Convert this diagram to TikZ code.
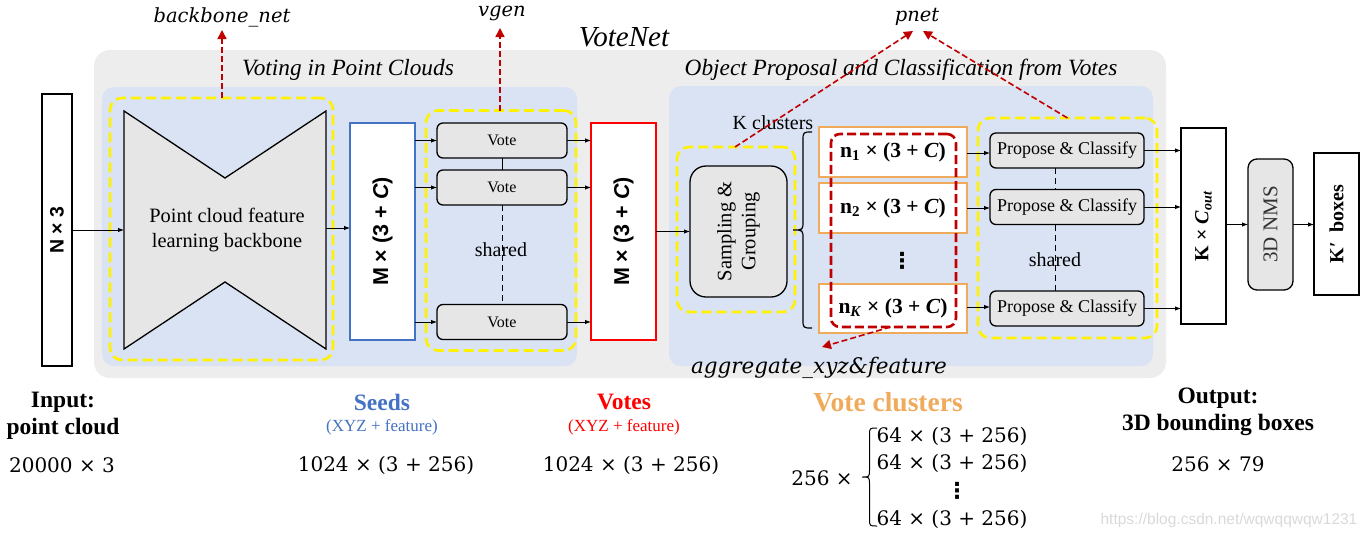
\documentclass[tikz,border=0pt]{standalone}
\usepackage{fontspec}
\setmainfont{Liberation Serif}
\newfontfamily\arialf{Liberation Sans}
\newfontfamily\cmath{DejaVu Serif}
\newfontfamily\dvsans{DejaVu Sans}
\usetikzlibrary{arrows.meta,calc}
\definecolor{bggray}{HTML}{EDEDED}
\definecolor{bgblue}{HTML}{DAE3F3}
\definecolor{boxgray}{HTML}{E6E6E6}
\definecolor{seedblue}{HTML}{4472C4}
\definecolor{darkred}{HTML}{C00000}
\definecolor{orangeb}{HTML}{F0AA5C}
\definecolor{wmgray}{HTML}{D9D9D9}
\newcommand\fsz[2]{\fontsize{#1}{#2}\selectfont}
\newcommand\clab[1]{{\bfseries n\textsubscript{#1} × (3 + \textit{C})}}
\newcommand\bvdots{{\dvsans\bfseries ⋮}}
\begin{document}
\begin{tikzpicture}[x=1pt,y=-1pt,
  every node/.style={inner sep=0pt, outer sep=0pt},
  ybox/.style={draw=yellow, line width=2.6pt, dash pattern=on 10pt off 5pt, rounded corners=12pt},
  rbox/.style={draw=darkred, line width=2.6pt, dash pattern=on 9pt off 4pt, rounded corners=9pt},
  tallbox/.style={draw=black, line width=1.8pt, fill=white},
  gbox/.style={draw=black, line width=1.3pt, fill=boxgray, rounded corners=6pt},
  clusterbox/.style={draw=orangeb, line width=2pt, fill=white, minimum width=148pt, minimum height=50pt, font=\fsz{21.5}{25}},
  votebox/.style={gbox, minimum width=130pt, minimum height=35pt, font=\fsz{16}{19}},
  propbox/.style={gbox, minimum width=154pt, minimum height=35pt, font=\fsz{18}{21}},
  arr/.style={-{Latex[length=6pt,width=4.5pt]}, line width=0.9pt},
  rarr/.style={darkred, line width=1.6pt, dash pattern=on 6pt off 3pt, -{Triangle[length=9pt,width=9pt]}},
  shareline/.style={line width=1pt, dash pattern=on 6pt off 4pt},
  ttl/.style={font=\fsz{23.3}{27}\itshape},
  mathlbl/.style={font=\cmath\itshape\fsz{19.5}{24}},
  btitle/.style={font=\fsz{23.5}{27}\bfseries},
  bsub/.style={font=\fsz{17}{20}},
  bnum/.style={font=\cmath\fsz{20}{24}}
]
\useasboundingbox (0,0) rectangle (1369,536);

% background regions
\node[fill=bggray, rounded corners=16pt, minimum width=1072pt, minimum height=328pt] (outer) at (630,214) {};
\node[fill=bgblue, rounded corners=12pt, minimum width=475pt, minimum height=279pt] (leftreg) at (339.5,226.5) {};
\node[fill=bgblue, rounded corners=12pt, minimum width=484pt, minimum height=280pt] (rightreg) at (911,226) {};

\node[font=\fsz{29}{34}\itshape] (votenet) at (624,37) {VoteNet};
\node[ttl] (ttlleft) at (348,70) {Voting in Point Clouds};
\node[ttl] (ttlright) at (901,70) {Object Proposal and Classification from Votes};

% input
\node[tallbox, minimum width=30pt, minimum height=272pt] (nbox) at (57,230) {};
\node[rotate=90, font=\arialf\bfseries\fsz{19.5}{23}] (ntext) at (nbox.center) {N × 3};

% backbone
\node[ybox, minimum width=223pt, minimum height=262pt] (ybb) at (221.5,229) {};
\draw[fill=boxgray, line width=1.3pt] (124,111) -- (225,178) -- (326,111) -- (326,349) -- (225,282) -- (124,349) -- cycle;
\coordinate (bbL) at (124,230);
\coordinate (bbR) at (326,228);
\node[align=center, font=\fsz{20.4}{25}] (bbtext) at (227,230) {Point cloud feature\\learning backbone};

% seeds
\node[draw=seedblue, line width=1.8pt, fill=white, minimum width=65pt, minimum height=217pt] (seeds) at (382.5,231.5) {};
\node[rotate=90, font=\arialf\bfseries\fsz{21.5}{25}] (seedtext) at (seeds.center) {M × (3 + \textit{C})};

% votes yellow group
\node[ybox, minimum width=150pt, minimum height=240pt] (yvote) at (501,230.5) {};
\node[votebox] (vote1) at (502,140.5) {Vote};
\node[votebox] (vote2) at (502,187.5) {Vote};
\node[votebox] (vote3) at (502,322) {Vote};
\node[font=\fsz{20}{23}] (shared1) at (501,250) {shared};
\draw[line width=1pt] (vote1.south) -- (vote2.north);
\draw[shareline] (vote2.south) -- (vote3.north);

% votes
\node[draw=red, line width=1.8pt, fill=white, minimum width=65pt, minimum height=217pt] (votes) at (623.5,231.5) {};
\node[rotate=90, font=\arialf\bfseries\fsz{21.5}{25}] (votetext) at (votes.center) {M × (3 + \textit{C})};

% sampling
\node[ybox, minimum width=118pt, minimum height=165pt] (ysamp) at (736,229.5) {};
\node[gbox, rounded corners=16pt, minimum width=97pt, minimum height=131pt] (samp) at (738.5,231.5) {};
\node[rotate=90, align=center, font=\fsz{20.5}{24}] (samptext) at (samp.center) {Sampling \&\\Grouping};

% K clusters
\node[font=\fsz{20}{23}] (kclust) at (773,123) {K clusters};
\draw[line width=1.2pt] (812,132) .. controls (803,132) .. (803,141) -- (803,221) .. controls (803,230) .. (793,230) .. controls (803,230) .. (803,239) -- (803,319) .. controls (803,328) .. (812,328);

\node[clusterbox] (c1) at (893,152) {\clab{1}};
\node[clusterbox] (c2) at (893,208) {\clab{2}};
\node[clusterbox, minimum height=49pt] (cK) at (893,308.5) {\clab{\textit{K}}};
\node[font=\fsz{22}{26}] (cdots) at (902,261) {\bvdots};
\node[rbox, minimum width=125pt, minimum height=193pt] (redbox) at (893.5,230.5) {};

% propose
\node[ybox, minimum width=179pt, minimum height=220pt] (yprop) at (1067.5,228) {};
\node[propbox] (p1) at (1067,150.5) {Propose \& Classify};
\node[propbox] (p2) at (1067,207) {Propose \& Classify};
\node[propbox] (p3) at (1067,308.5) {Propose \& Classify};
\node[font=\fsz{20}{23}] (shared2) at (1055,260) {shared};
\draw[shareline] ([xshift=-12pt]p1.south) -- ([xshift=-12pt]p2.north);
\draw[shareline] ([xshift=-12pt]p2.south) -- ([xshift=-12pt]p3.north);

% output
\node[tallbox, minimum width=45pt, minimum height=196pt] (kc) at (1203.5,226) {};
\node[rotate=90, font=\bfseries\fsz{20}{23}] (kctext) at (kc.center) {K × \textit{C}\textsubscript{\textit{out}}};
\node[gbox, rounded corners=9pt, minimum width=45pt, minimum height=131pt] (nms) at (1270.5,224.5) {};
\node[rotate=90, font=\fsz{21}{24}, text=black!80] (nmstext) at (nms.center) {3D NMS};
\node[tallbox, minimum width=45pt, minimum height=142pt] (kb) at (1336.5,224) {};
\node[rotate=90, font=\bfseries\fsz{20}{23}] (kbtext) at (kb.center) {K′\ \ boxes};

% arrows
\draw[arr] (bbL -| nbox.east) -- (bbL);
\draw[arr] (bbR) -- (bbR -| seeds.west);
\foreach \v in {vote1,vote2,vote3}{
  \draw[arr] (\v.west -| seeds.east) -- (\v.west);
  \draw[arr] (\v.east) -- (\v.east -| votes.west);
}
\draw[arr] (votes.east) -- (samp.west);
\draw[arr] ([yshift=-1pt]c1.east) -- ([yshift=-1pt]c1.east -| p1.west);
\draw[arr] (c2.east) -- (c2.east -| p2.west);
\draw[arr] ([yshift=1.5pt]cK.east) -- ([yshift=1.5pt]cK.east -| p3.west);
\foreach \p in {p1,p2,p3}{
  \draw[arr] (\p.east) -- (\p.east -| kc.west);
}
\draw[arr] (nms.west -| kc.east) -- (nms.west);
\draw[arr] (nms.east) -- (nms.east -| kb.west);

% red labels and arrows
\node[mathlbl] (bbnet) at (222,17) {backbone\_net};
\node[mathlbl] (vgen) at (502,13) {vgen};
\node[mathlbl] (pnet) at (917,17) {pnet};
\node[mathlbl, font=\cmath\itshape\fsz{21.5}{25}] (agg) at (819,368) {aggregate\_xyz\&feature};
\coordinate (bbtip) at (222,30);
\coordinate (vgentip) at (500,28);
\coordinate (pnetA) at (913,31);
\coordinate (pnetB) at (923,31);
\coordinate (aggtip) at (822,347);
\draw[rarr] (ybb.north -| bbtip) -- (bbtip);
\draw[rarr] (yvote.north -| vgentip) -- (vgentip);
\draw[rarr] ([xshift=-1pt]ysamp.north) -- (pnetA);
\draw[rarr] (yprop.north) -- (pnetB);
\draw[rarr] ([xshift=-3pt]redbox.south) -- (aggtip);

% bottom annotations
\node[btitle] (intitle1) at (63,402) {Input:};
\node[btitle] (intitle2) at (63,429) {point cloud};
\node[bnum] (innum) at (62,465) {20000 × 3};
\node[btitle, text=seedblue] (seedtitle) at (382,402) {Seeds};
\node[bsub, text=seedblue] (seedsub) at (382,427) {(XYZ + feature)};
\node[bnum] (seednum) at (386,465) {1024 × (3 + 256)};
\node[btitle, text=red] (votetitle) at (624,402) {Votes};
\node[bsub, text=red] (votesub) at (624,427) {(XYZ + feature)};
\node[bnum] (votenum) at (631,465) {1024 × (3 + 256)};
\node[btitle, font=\fsz{27.5}{31}\bfseries, text=orangeb] (cltitle) at (888,402) {Vote clusters};
\node[bnum] (cl256) at (822,478) {256 ×};
\draw[line width=1pt] (877,428) .. controls (869.5,428) .. (869.5,435.5) -- (869.5,469.5) .. controls (869.5,477) .. (862,477) .. controls (869.5,477) .. (869.5,484.5) -- (869.5,518.5) .. controls (869.5,526) .. (877,526);
\node[bnum] (cl1) at (952,436) {64 × (3 + 256)};
\node[bnum] (cl2) at (952,463) {64 × (3 + 256)};
\node[font=\fsz{22}{26}] (cldots) at (957,491) {\bvdots};
\node[bnum] (cl3) at (952,519) {64 × (3 + 256)};
\node[btitle] (outtitle1) at (1218,398) {Output:};
\node[btitle] (outtitle2) at (1218,425) {3D bounding boxes};
\node[bnum] (outnum) at (1218,464) {256 × 79};
\node[font=\arialf\fsz{15.5}{18}, text=wmgray] (wm) at (1229,520) {https://blog.csdn.net/wqwqqwqw1231};
\end{tikzpicture}
\end{document}
